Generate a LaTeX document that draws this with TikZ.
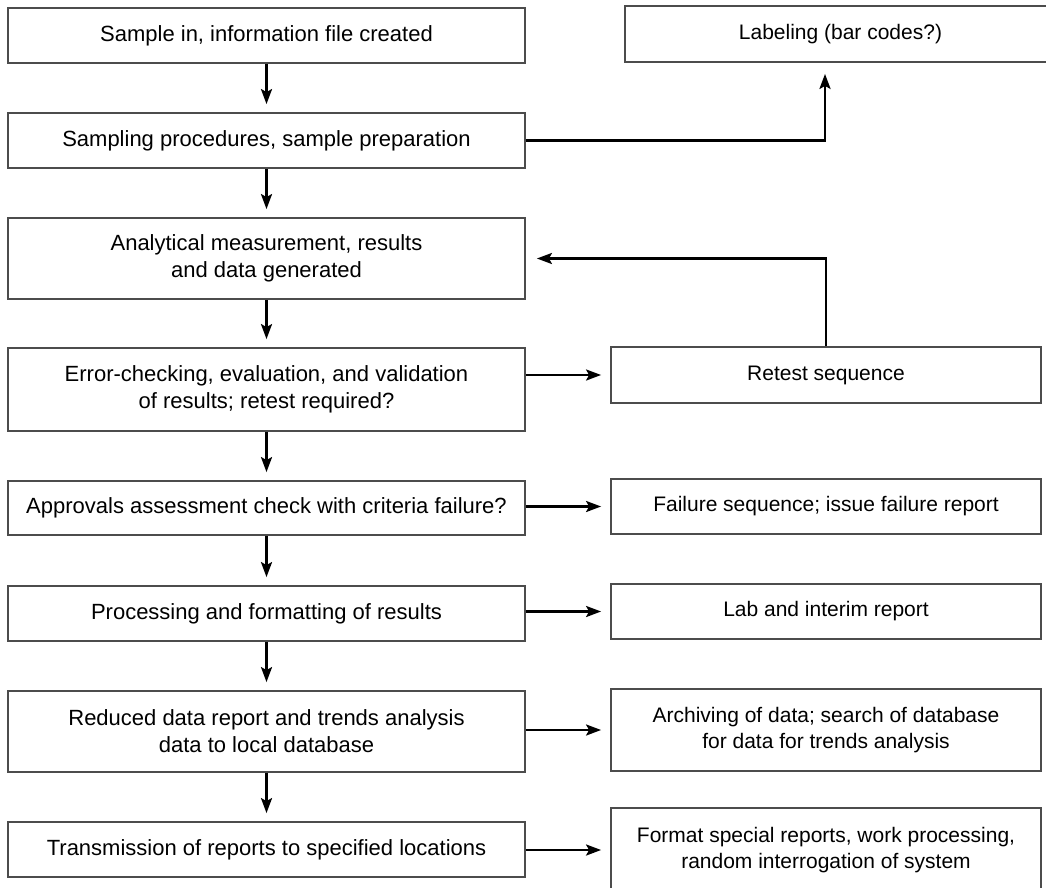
\documentclass[tikz,border=0pt]{standalone}
\usepackage{fontspec}
\setmainfont{Liberation Sans}
\usetikzlibrary{arrows.meta}
\begin{document}
\begin{tikzpicture}[x=1pt,y=-1pt,
  box/.style={draw=black!70, line width=1.8pt, fill=white, inner sep=0pt, align=center},
  lbox/.style={box, minimum width=517pt, font=\fontsize{22}{27}\selectfont},
  rbox/.style={box, minimum width=430pt, font=\fontsize{21}{26.5}\selectfont},
  flow/.style={draw=black, line width=2.6pt, -{Stealth[length=15pt,width=11pt,inset=3pt]}}
]
\useasboundingbox (0,0) rectangle (1046,888);
\clip (0,0) rectangle (1046,888);
\fill[white] (0,0) rectangle (1046,888);

% main sequence (left column)
\node[lbox, minimum height=55pt] (B1) at (266.5,35.5) {Sample in, information file created};
\node[lbox, minimum height=55pt] (B2) at (266.5,140.5) {Sampling procedures, sample preparation};
\node[lbox, minimum height=81pt] (B3) at (266.5,258.5) {Analytical measurement, results\\and data generated};
\node[lbox, minimum height=83pt] (B4) at (266.5,389.5) {Error-checking, evaluation, and validation\\of results; retest required?};
\node[lbox, minimum height=54pt] (B5) at (266.5,508) {Approvals assessment check with criteria failure?};
\node[lbox, minimum height=55pt] (B6) at (266.5,613.5) {Processing and formatting of results};
\node[lbox, minimum height=81pt] (B7) at (266.5,731.5) {Reduced data report and trends analysis\\data to local database};
\node[lbox, minimum height=55pt] (B8) at (266.5,849.5) {Transmission of reports to specified locations};

% side actions (right column)
\node[rbox, minimum width=431pt, minimum height=56pt] (L) at (840.5,34) {Labeling (bar codes?)};
\node[rbox, minimum height=56pt] (R) at (826,375) {Retest sequence};
\node[rbox, minimum height=55pt] (F) at (826,506.5) {Failure sequence; issue failure report};
\node[rbox, minimum height=55pt] (Lab) at (826,611.5) {Lab and interim report};
\node[rbox, minimum height=82pt] (Arch) at (826,730) {Archiving of data; search of database\\for data for trends analysis};
\node[rbox, minimum height=84pt] (Fmt) at (826,850) {Format special reports, work processing,\\random interrogation of system};

% downward flow
\foreach \a/\b in {B1/B2,B2/B3,B3/B4,B4/B5,B5/B6,B6/B7,B7/B8}
  \draw[flow, shorten >=8pt] (\a.south) -- (\b.north);

% branch to labeling
\draw[flow, shorten >=11pt] (B2.east) -| ([xshift=-15.5pt]L.south);

% retest loop back to measurement
\draw[flow, shorten >=11pt] (R.north) |- (B3.east);

% sideways outputs
\draw[flow, shorten >=9pt] (B4.east |- R.west) -- (R.west);
\draw[flow, shorten >=9pt] (B5.east |- F.west) -- (F.west);
\draw[flow, shorten >=9pt] (B6.east |- Lab.west) -- (Lab.west);
\draw[flow, shorten >=9pt] (B7.east |- Arch.west) -- (Arch.west);
\draw[flow, shorten >=9pt] (B8.east |- Fmt.west) -- (Fmt.west);
\end{tikzpicture}
\end{document}
